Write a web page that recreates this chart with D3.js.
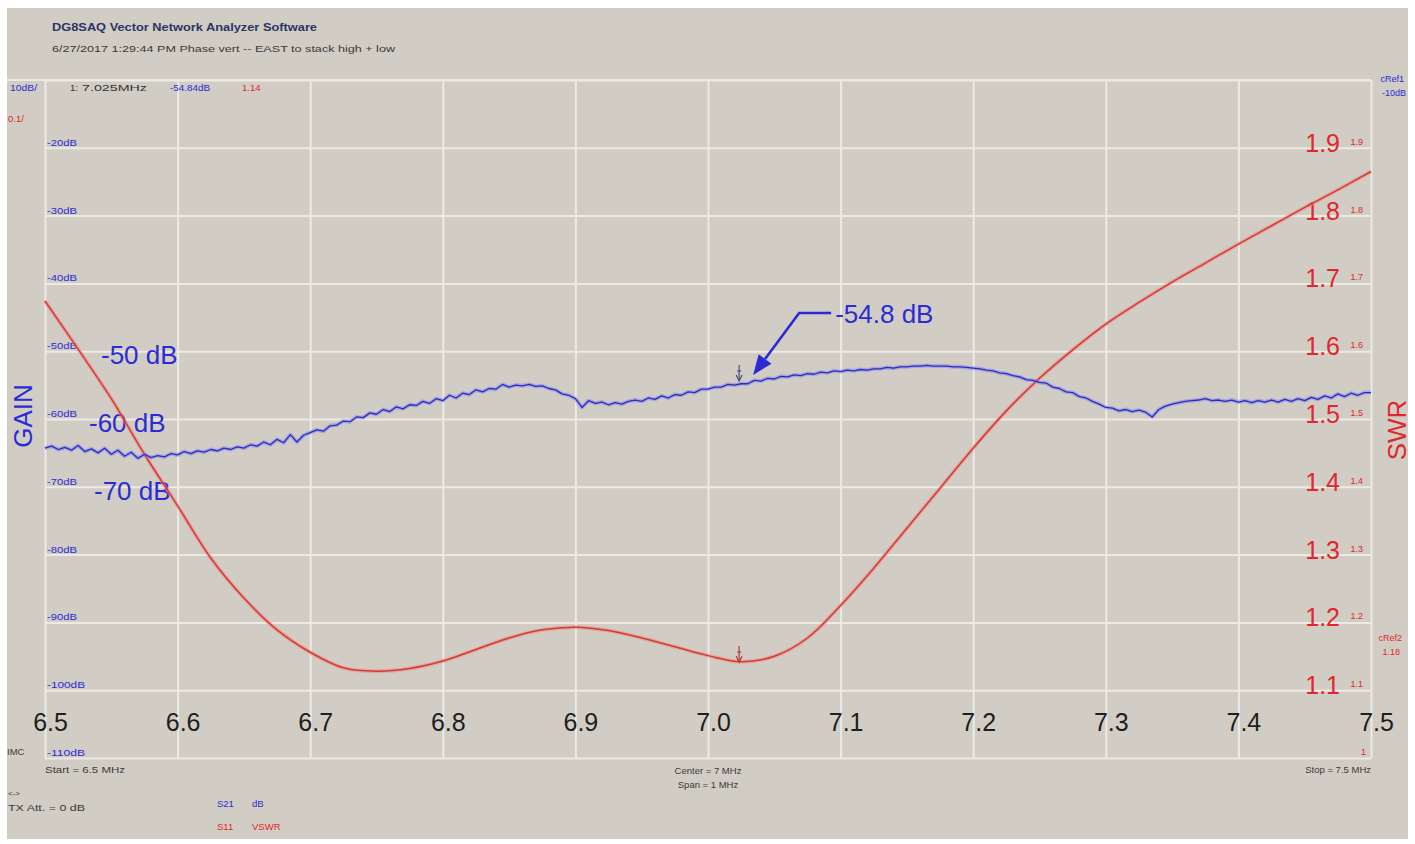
<!DOCTYPE html>
<html>
<head>
<meta charset="utf-8">
<script src="https://cdn.jsdelivr.net/npm/d3@7"></script>
<style>
  html, body { margin: 0; padding: 0; background: #ffffff; }
  svg { display: block; font-family: "Liberation Sans", Arial, sans-serif; }
</style>
</head>
<body>
<svg id="chart" width="1415" height="844"></svg>
<script>
// ---- sweep and scale definitions ----
const sweepStart = 6.5;   // MHz
const sweepStop = 7.5;    // MHz

const freqTicks = [6.5, 6.6, 6.7, 6.8, 6.9, 7.0, 7.1, 7.2, 7.3, 7.4, 7.5];
const gainGrid = [-10, -20, -30, -40, -50, -60, -70, -80, -90, -100, -110];
const gainTickLabels = [-20, -30, -40, -50, -60, -70, -80, -90, -100, -110];
const swrTicks = [1.1, 1.2, 1.3, 1.4, 1.5, 1.6, 1.7, 1.8, 1.9];
const gainCallouts = [-50, -60, -70];

// S21 (dB), 201 sweep points from 6.5 to 7.5 MHz
const s21Gain = [
  -64.3,-64.0,-64.5,-64.2,-64.6,-63.9,-64.8,-64.4,-65.0,-64.3,-65.2,-64.6,-65.5,-64.9,-65.8,-65.2,-65.7,-65.4,-65.6,-65.1,
  -65.3,-64.8,-65.1,-64.7,-64.9,-64.5,-64.7,-64.3,-64.5,-64.1,-64.3,-63.8,-64.0,-63.4,-63.8,-63.0,-63.5,-62.3,-63.4,-62.4,
  -62.0,-61.6,-61.8,-61.0,-60.9,-60.3,-60.4,-59.7,-59.8,-59.1,-59.3,-58.6,-58.9,-58.2,-58.5,-57.9,-58.0,-57.4,-57.7,-57.0,
  -57.3,-56.5,-56.9,-56.2,-56.4,-55.7,-56.0,-55.5,-55.6,-54.9,-55.3,-55.0,-55.1,-54.9,-55.2,-55.1,-55.5,-55.7,-56.3,-56.5,
  -57.0,-58.3,-57.3,-57.7,-57.5,-57.9,-57.6,-57.8,-57.4,-57.2,-57.4,-56.9,-57.1,-56.6,-56.9,-56.4,-56.5,-56.0,-56.1,-55.6,
  -55.6,-55.3,-55.3,-54.9,-55.0,-54.8,-54.8,-54.3,-54.4,-54.0,-54.1,-53.7,-53.8,-53.5,-53.6,-53.3,-53.4,-53.1,-53.2,-52.9,
  -53.0,-52.8,-52.9,-52.7,-52.8,-52.6,-52.6,-52.4,-52.5,-52.3,-52.3,-52.2,-52.2,-52.1,-52.2,-52.2,-52.2,-52.3,-52.3,-52.4,
  -52.5,-52.6,-52.8,-52.9,-53.2,-53.3,-53.6,-53.8,-54.2,-54.3,-54.6,-54.7,-55.3,-55.5,-56.0,-56.1,-56.7,-56.9,-57.4,-57.8,
  -58.3,-58.4,-58.8,-58.6,-58.9,-58.7,-59.0,-59.7,-58.6,-58.1,-57.8,-57.6,-57.4,-57.3,-57.2,-57.0,-57.3,-57.2,-57.4,-57.2,
  -57.5,-57.3,-57.6,-57.3,-57.5,-57.2,-57.5,-57.1,-57.4,-57.0,-57.3,-56.8,-57.1,-56.6,-56.9,-56.3,-56.7,-56.2,-56.5,-56.1,
  -56.1
];

// S11 VSWR
const swrFreq = [
  6.500, 6.525, 6.550, 6.575, 6.600, 6.625, 6.650, 6.675, 6.700, 6.725,
  6.750, 6.775, 6.800, 6.825, 6.850, 6.875, 6.900, 6.925, 6.950, 6.975,
  7.000, 7.025, 7.050, 7.075, 7.100, 7.125, 7.150, 7.175, 7.200, 7.225,
  7.250, 7.275, 7.300, 7.325, 7.350, 7.375, 7.400, 7.425, 7.450, 7.475, 7.500
];
const swrValues = [
  1.674, 1.603, 1.530, 1.448, 1.372, 1.295, 1.236, 1.189, 1.156, 1.133,
  1.128, 1.132, 1.143, 1.160, 1.177, 1.189, 1.193, 1.188, 1.177, 1.164,
  1.151, 1.142, 1.150, 1.177, 1.225, 1.280, 1.339, 1.398, 1.457, 1.512,
  1.560, 1.602, 1.640, 1.672, 1.702, 1.730, 1.758, 1.785, 1.812, 1.838, 1.865
];

// marker 1 readout
const markerFreq = 7.025;
const markerGain = -54.84;
const markerSwr = 1.14;

// ---- colours ----
const BG = "#d1cdc4";
const GRID = "#edeae4";
const BLUE = "#2b2bd6";
const RED = "#e2262a";

// ---- layout ----
const plot = { left: 45, right: 1371, top: 80, bottom: 758 };

const svg = d3.select("#chart");

const x = d3.scaleLinear().domain([sweepStart, sweepStop]).range([plot.left, plot.right]);
const yGain = d3.scaleLinear().domain([-110, -10]).range([plot.bottom, plot.top]);
const ySwr = d3.scaleLinear().domain([1, 2]).range([plot.bottom, plot.top]);

// plain ASCII number formatting (hyphen minus, as the analyzer prints it)
const fixed = n => v => v.toFixed(n);

// window background
svg.append("rect").attr("x", 7).attr("y", 8).attr("width", 1401).attr("height", 831).attr("fill", BG);

// ---- grid ----
const gridG = svg.append("g");
const vGrid = d3.axisBottom(x).tickValues(freqTicks).tickSize(-(plot.bottom - plot.top)).tickFormat("");
gridG.append("g").attr("transform", `translate(0,${plot.bottom})`).call(vGrid)
  .call(g => g.select(".domain").remove())
  .call(g => g.selectAll("line").attr("stroke", GRID).attr("stroke-width", 2));

const hGrid = d3.axisLeft(yGain).tickValues(gainGrid).tickSize(-(plot.right - plot.left)).tickFormat("");
gridG.append("g").attr("transform", `translate(${plot.left},0)`).call(hGrid)
  .call(g => g.select(".domain").remove())
  .call(g => g.selectAll("line").attr("stroke", GRID).attr("stroke-width", 2));
// top border runs across the whole window
gridG.append("line").attr("x1", 7).attr("x2", plot.right)
  .attr("y1", yGain(-10)).attr("y2", yGain(-10)).attr("stroke", GRID).attr("stroke-width", 2);

// ---- header texts ----
const txt = (xp, yp, s, opts = {}) => {
  const t = svg.append("text").attr("x", xp).attr("y", yp).text(s)
    .attr("font-size", opts.size || 9.5)
    .attr("fill", opts.fill || "#3a3a3a")
    .attr("font-weight", opts.weight || "normal")
    .attr("text-anchor", opts.anchor || "start");
  if (opts.len) t.attr("textLength", opts.len).attr("lengthAdjust", "spacingAndGlyphs");
  return t;
};

txt(52, 31, "DG8SAQ Vector Network Analyzer Software", { size: 10.5, weight: "bold", fill: "#2c3466", len: 265 });
txt(52, 52, "6/27/2017   1:29:44 PM   Phase vert -- EAST  to stack high + low", { size: 9.5, fill: "#3a3a3a", len: 343 });

txt(10, 91, "10dB/", { size: 9.5, fill: BLUE, len: 27 });
txt(70, 91, "1:", { size: 9.5, fill: "#333" });
txt(82, 91, `${fixed(3)(markerFreq)}MHz`, { size: 9.5, fill: "#333", len: 65 });
txt(170, 91, `${fixed(2)(markerGain)}dB`, { size: 9.5, fill: BLUE, len: 40 });
txt(242, 91, fixed(2)(markerSwr), { size: 9.5, fill: RED });
txt(8, 122, "0.1/", { size: 9.5, fill: RED });

// right reference labels
txt(1404, 82, "cRef1", { size: 9, fill: BLUE, anchor: "end" });
txt(1406, 96, "-10dB", { size: 9, fill: BLUE, anchor: "end" });
txt(1402, 641, "cRef2", { size: 9, fill: RED, anchor: "end" });
txt(1400, 655, "1.18", { size: 9, fill: RED, anchor: "end" });

// ---- left small gain labels ----
svg.append("g").selectAll("text").data(gainTickLabels).join("text")
  .attr("x", plot.left + 2)
  .attr("y", d => yGain(d) - 2)
  .attr("font-size", 9.5)
  .attr("fill", BLUE)
  .attr("textLength", d => d <= -100 ? 38 : 30)
  .attr("lengthAdjust", "spacingAndGlyphs")
  .text(d => `${d}dB`);

// ---- right small SWR labels ----
svg.append("g").selectAll("text").data(swrTicks).join("text")
  .attr("x", plot.right - 8)
  .attr("y", d => ySwr(d) - 3)
  .attr("font-size", 9)
  .attr("fill", RED)
  .attr("text-anchor", "end")
  .text(d => fixed(1)(d));
txt(plot.right - 5, ySwr(1) - 3, "1", { size: 9, fill: RED, anchor: "end" });

// ---- big SWR labels ----
svg.append("g").selectAll("text").data(swrTicks).join("text")
  .attr("x", plot.right - 31)
  .attr("y", d => ySwr(d) + 4)
  .attr("font-size", 25)
  .attr("fill", RED)
  .attr("text-anchor", "end")
  .text(d => fixed(1)(d));

// ---- big gain call-outs ----
const calloutX = { "-50": 101, "-60": 89, "-70": 94 };
svg.append("g").selectAll("text").data(gainCallouts).join("text")
  .attr("x", d => calloutX[d])
  .attr("y", d => yGain(d) + 13)
  .attr("font-size", 26)
  .attr("fill", BLUE)
  .text(d => `${d} dB`);

// ---- frequency axis labels ----
const xAxis = d3.axisBottom(x).tickValues(freqTicks).tickSize(0).tickPadding(0)
  .tickFormat(fixed(1));
svg.append("g").attr("transform", `translate(5,${yGain(-100) + 41})`).call(xAxis)
  .call(g => g.select(".domain").remove())
  .call(g => g.selectAll("text")
    .attr("font-family", "\"Liberation Sans\", Arial, sans-serif")
    .attr("font-size", 25).attr("fill", "#1e1e1e").attr("dy", 0));

// axis titles
svg.append("text").attr("transform", "translate(32,416) rotate(-90)")
  .attr("text-anchor", "middle").attr("font-size", 26).attr("fill", BLUE).text("GAIN");
svg.append("text").attr("transform", "translate(1406,430) rotate(-90)")
  .attr("text-anchor", "middle").attr("font-size", 26).attr("fill", RED).text("SWR");

// ---- traces ----
const sweepStep = (sweepStop - sweepStart) / (s21Gain.length - 1);
const s21Data = s21Gain.map((g, i) => ({ f: sweepStart + i * sweepStep, g }));
const swrData = swrFreq.map((f, i) => ({ f, s: swrValues[i] }));

const s21Line = d3.line().x(d => x(d.f)).y(d => yGain(d.g));
const swrLine = d3.line().x(d => x(d.f)).y(d => ySwr(d.s)).curve(d3.curveCatmullRom);

const traces = svg.append("g").attr("fill", "none").attr("stroke-linejoin", "round");
traces.append("path").attr("d", swrLine(swrData)).attr("stroke", "rgba(245,130,120,0.5)").attr("stroke-width", 4);
traces.append("path").attr("d", swrLine(swrData)).attr("stroke", "#d23c38").attr("stroke-width", 1.5);
traces.append("path").attr("d", s21Line(s21Data)).attr("stroke", "rgba(120,120,255,0.45)").attr("stroke-width", 4);
traces.append("path").attr("d", s21Line(s21Data)).attr("stroke", "#2c2cbc").attr("stroke-width", 1.3);

// ---- marker flags ----
const flag = (px, py, color) => {
  const g = svg.append("g").attr("stroke", color).attr("fill", "none").attr("stroke-width", 1.2);
  g.append("line").attr("x1", px).attr("x2", px).attr("y1", py - 18).attr("y2", py - 2);
  g.append("path").attr("d", `M${px - 3},${py - 8} L${px},${py - 2} L${px + 3},${py - 8}`);
  g.append("line").attr("x1", px - 2).attr("x2", px + 2).attr("y1", py - 12).attr("y2", py - 12);
};
flag(x(markerFreq) - 2, yGain(markerGain) - 1, "#4a4a8a");
flag(x(markerFreq) - 2, ySwr(markerSwr) + 1, "#b03a3a");

// ---- -54.8 dB annotation ----
const tipX = x(markerFreq) + 12;
const tipY = yGain(markerGain) - 9;
const elbowX = tipX + 46, elbowY = tipY - 62;
const ann = svg.append("g");
const ang = Math.atan2(tipY - elbowY, tipX - elbowX);
const headLen = 20, headW = 8;
const bx = tipX - headLen * Math.cos(ang), by = tipY - headLen * Math.sin(ang);
ann.append("path")
  .attr("d", `M${elbowX + 32},${elbowY} L${elbowX},${elbowY} L${bx},${by}`)
  .attr("fill", "none").attr("stroke", BLUE).attr("stroke-width", 2.6);
ann.append("path")
  .attr("d", `M${tipX},${tipY} L${bx + headW * Math.sin(ang)},${by - headW * Math.cos(ang)} L${bx - headW * Math.sin(ang)},${by + headW * Math.cos(ang)} Z`)
  .attr("fill", BLUE);
ann.append("text").attr("x", elbowX + 36).attr("y", elbowY + 10)
  .attr("font-size", 26).attr("fill", BLUE).text(`${fixed(1)(markerGain)} dB`);

// ---- footer texts ----
txt(7, 755, "IMC", { size: 9.5, fill: "#3a3a3a" });
txt(45, 773, "Start = 6.5 MHz", { size: 9.5, fill: "#3a3a3a", len: 80 });
txt(708, 774, "Center = 7 MHz", { size: 9.5, fill: "#3a3a3a", anchor: "middle" });
txt(708, 788, "Span = 1 MHz", { size: 9.5, fill: "#3a3a3a", anchor: "middle" });
txt(plot.right, 773, "Stop = 7.5 MHz", { size: 9.5, fill: "#3a3a3a", anchor: "end" });
txt(8, 796, "<->", { size: 8, fill: "#3a3a3a" });
txt(8, 811, "TX Att.  = 0 dB", { size: 9.5, fill: "#3a3a3a", len: 77 });
txt(217, 807, "S21", { size: 9.5, fill: BLUE });
txt(252, 807, "dB", { size: 9.5, fill: BLUE });
txt(217, 830, "S11", { size: 9.5, fill: RED });
txt(252, 830, "VSWR", { size: 9.5, fill: RED });
</script>
</body>
</html>
